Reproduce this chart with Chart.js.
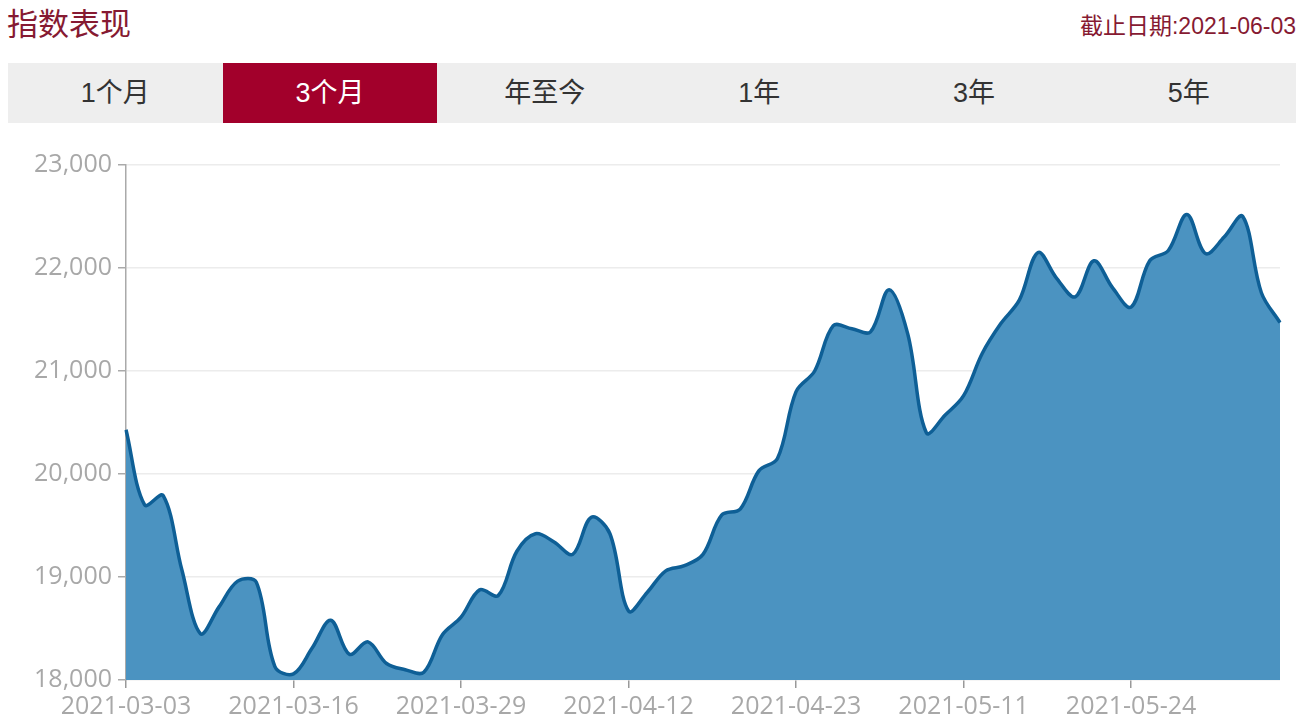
<!DOCTYPE html>
<html>
<head>
<meta charset="utf-8">
<script src="https://cdn.jsdelivr.net/npm/chart.js@4"></script>
<style>
  html, body { margin: 0; padding: 0; background: #fff; width: 1304px; height: 721px; overflow: hidden; }
  body { position: relative; font-family: "Liberation Sans", "Noto Sans CJK SC", sans-serif; }
  #title { position: absolute; left: 7px; top: 1px; font-size: 31px; color: #861a32; font-family: "Noto Sans CJK SC", sans-serif; line-height: 42px; }
  #date { position: absolute; right: 8px; top: 9px; font-size: 23px; color: #861a32; line-height: 34px; font-family: "Liberation Sans", "Noto Sans CJK SC", sans-serif; }
  #tabs { position: absolute; left: 8px; top: 63px; width: 1288px; height: 60px; background: #eeeeee; display: flex; }
  .tab { flex: 1; text-align: center; line-height: 60px; font-size: 27px; color: #333; }
  .tab.active { background: #a2002b; color: #fff; }
  #wrap { position: absolute; left: 0; top: 140px; width: 1304px; height: 581px; }
</style>
</head>
<body>
<div id="title">指数表现</div>
<div id="date">截止日期:2021-06-03</div>
<div id="tabs"></div>
<div id="wrap"><canvas id="c"></canvas></div>
<script>
const tabLabels = ["1个月", "3个月", "年至今", "1年", "3年", "5年"];
const activeTab = 1;

const dates = [
  "2021-03-03","2021-03-04","2021-03-05","2021-03-08","2021-03-09","2021-03-10","2021-03-11","2021-03-12","2021-03-15",
  "2021-03-16","2021-03-17","2021-03-18","2021-03-19","2021-03-22","2021-03-23","2021-03-24","2021-03-25","2021-03-26",
  "2021-03-29","2021-03-30","2021-03-31","2021-04-01","2021-04-02","2021-04-06","2021-04-07","2021-04-08","2021-04-09",
  "2021-04-12","2021-04-13","2021-04-14","2021-04-15","2021-04-16","2021-04-19","2021-04-20","2021-04-21","2021-04-22",
  "2021-04-23","2021-04-26","2021-04-27","2021-04-28","2021-04-29","2021-04-30","2021-05-06","2021-05-07","2021-05-10",
  "2021-05-11","2021-05-12","2021-05-13","2021-05-14","2021-05-17","2021-05-18","2021-05-19","2021-05-20","2021-05-21",
  "2021-05-24","2021-05-25","2021-05-26","2021-05-27","2021-05-28","2021-05-31","2021-06-01","2021-06-02","2021-06-03"
];

const indexValues = [
  20430, 19700, 19790, 19070, 18450, 18710, 18960, 18950, 18130,
  18060, 18310, 18580, 18250, 18370, 18160, 18100, 18075, 18440,
  18610, 18875, 18820, 19250, 19420, 19340, 19220, 19580, 19420,
  18670, 18850, 19060, 19110, 19220, 19600, 19660, 20030, 20150,
  20800, 21000, 21440, 21410, 21380, 21790, 21360, 20400, 20570,
  20760, 21170, 21460, 21690, 22150, 21900, 21720, 22070, 21810,
  21620, 22070, 22170, 22520, 22140, 22300, 22500, 21760, 21470
];

const yTicks = [18000, 19000, 20000, 21000, 22000, 23000];
const labelEvery = 9;

const tabsEl = document.getElementById('tabs');
tabLabels.forEach((t, i) => {
  const d = document.createElement('div');
  d.className = 'tab' + (i === activeTab ? ' active' : '');
  d.textContent = t;
  tabsEl.appendChild(d);
});

const axisFont = { family: "'Open Sans', 'Noto Sans', sans-serif", size: 25 };

new Chart(document.getElementById('c'), {
  type: 'line',
  data: {
    labels: dates,
    datasets: [{
      data: indexValues,
      borderColor: '#0e5f96',
      borderWidth: 3.5,
      backgroundColor: '#4b93c1',
      fill: 'start',
      tension: 0.35,
      pointRadius: 0,
      pointHoverRadius: 0
    }]
  },
  options: {
    responsive: true,
    maintainAspectRatio: false,
    animation: false,
    events: [],
    layout: { padding: { left: 0, right: 24, top: 25, bottom: 0 } },
    plugins: { legend: { display: false }, tooltip: { enabled: false } },
    scales: {
      x: {
        type: 'category',
        offset: false,
        border: { display: false },
        grid: {
          drawOnChartArea: false,
          drawTicks: true,
          tickLength: 8,
          color: '#999',
          lineWidth: 1.5
        },
        ticks: {
          autoSkip: false,
          maxRotation: 0,
          minRotation: 0,
          padding: 4,
          color: '#a8a8a8',
          font: axisFont,
          callback: function(val, i) {
            return i % labelEvery === 0 ? this.getLabelForValue(val) : null;
          }
        },
        afterFit: s => { s.height = 41; }
      },
      y: {
        min: yTicks[0],
        max: yTicks[yTicks.length - 1],
        border: { display: true, color: '#aaa', width: 1.5 },
        grid: {
          color: '#ececec',
          tickColor: '#aaa',
          tickLength: 8,
          lineWidth: 1.5
        },
        afterBuildTicks: s => { s.ticks = yTicks.map(v => ({ value: v })); },
        ticks: {
          padding: 6,
          color: '#a8a8a8',
          font: axisFont,
          callback: v => v.toLocaleString('en-US')
        },
        afterFit: s => { s.width = 126; }
      }
    }
  }
});
</script>
</body>
</html>
